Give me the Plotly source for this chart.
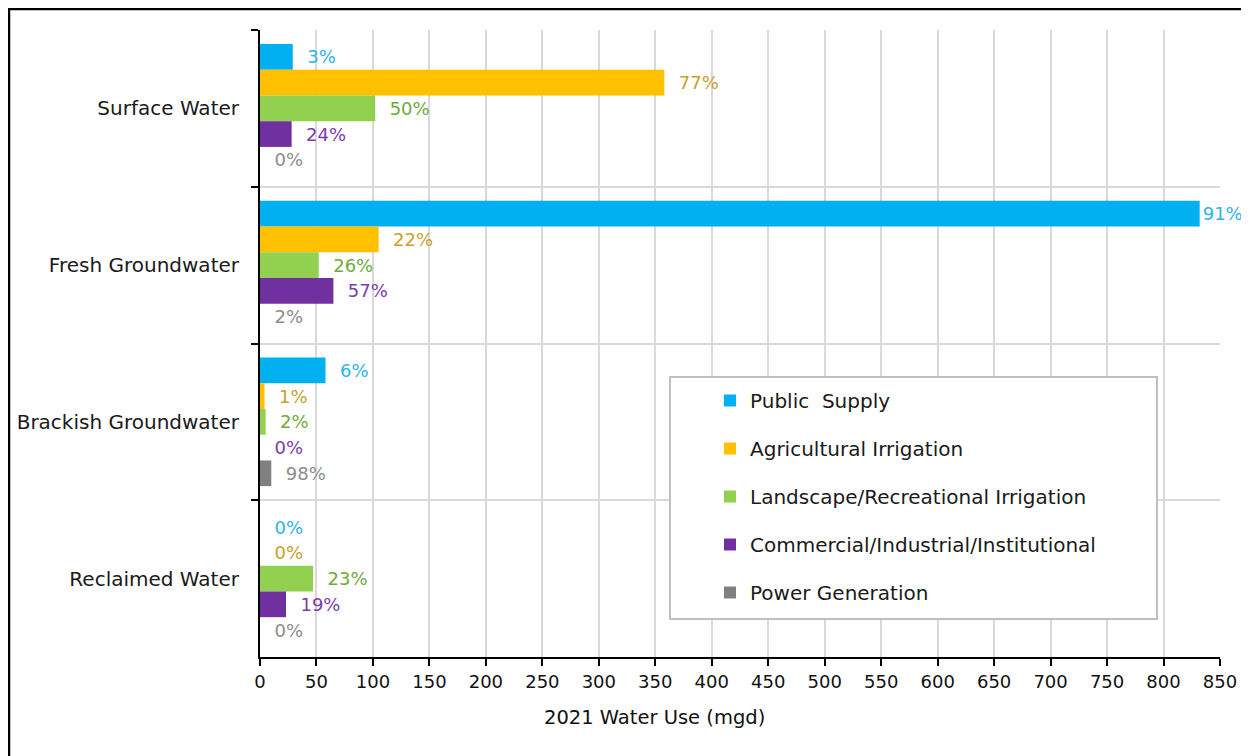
import plotly.graph_objects as go

categories = ["Surface Water", "Fresh Groundwater", "Brackish Groundwater", "Reclaimed Water"]
series_names = ["Public  Supply", "Agricultural Irrigation", "Landscape/Recreational Irrigation",
                "Commercial/Industrial/Institutional", "Power Generation"]

public_supply = [29, 832, 58, 0]
agricultural = [358, 105, 4, 0]
landscape = [102, 52, 5, 47]
commercial = [28, 65, 0, 23]
power = [0, 0, 10, 0]

public_supply_pct = ["3%", "91%", "6%", "0%"]
agricultural_pct = ["77%", "22%", "1%", "0%"]
landscape_pct = ["50%", "26%", "2%", "23%"]
commercial_pct = ["24%", "57%", "0%", "19%"]
power_pct = ["0%", "2%", "98%", "0%"]

x_ticks = list(range(0, 851, 50))

values = [public_supply, agricultural, landscape, commercial, power]
labels = [public_supply_pct, agricultural_pct, landscape_pct, commercial_pct, power_pct]
bar_colors = ["#00B0F0", "#FFC000", "#92D050", "#7030A0", "#808080"]
label_colors = ["#2CB4EC", "#C9A12B", "#6FAA3C", "#7A3CB0", "#8C8C8C"]

# page is offset by 8px (body margin); work in page pixels and convert
OFF = 8
W, H = 1249 - OFF, 756 - OFF
L, R, T, B = 260 - OFF, 1249 - 1220, 30 - OFF, 756 - 657
pw, ph = W - L - R, H - T - B

def px_x(p):
    return (p - OFF - L) / pw

def px_y(p):
    return (H - B - (p - OFF)) / ph

fig = go.Figure()
for i, name in enumerate(series_names):
    txt = []
    for v, t in zip(values[i], labels[i]):
        txt.append(("" if v > 700 else "\u00a0\u00a0") + t)
    fig.add_trace(go.Bar(
        name=name,
        y=categories,
        x=values[i],
        orientation="h",
        marker=dict(color=bar_colors[i], line=dict(width=0)),
        text=txt,
        textposition="outside",
        textfont=dict(color=label_colors[i], size=18, family="DejaVu Sans"),
        constraintext="none",
        cliponaxis=False,
        legendgroup=f"g{i}",
    ))

fig.update_layout(
    width=W, height=H,
    margin=dict(l=L, r=R, t=T, b=B, autoexpand=False),
    paper_bgcolor="white",
    plot_bgcolor="white",
    barmode="group",
    bargap=0.18,
    bargroupgap=0,
    font=dict(family="DejaVu Sans", color="#262626"),
    showlegend=True,
    legend=dict(
        x=px_x(710), y=px_y(381), xanchor="left", yanchor="top",
        bgcolor="rgba(0,0,0,0)", borderwidth=0,
        font=dict(size=20, family="DejaVu Sans", color="#1a1a1a"),
        tracegroupgap=19,
        itemclick=False,
    ),
    xaxis=dict(
        range=[0, 850],
        tickvals=x_ticks,
        ticktext=[str(v) for v in x_ticks],
        showgrid=True, gridcolor="#D9D9D9", gridwidth=2,
        showline=True, linecolor="black", linewidth=2,
        ticks="outside", ticklen=7, tickcolor="black", tickwidth=1.5,
        tickfont=dict(size=18, family="DejaVu Sans", color="#111"),
        zeroline=False,
        automargin=False,
    ),
    yaxis=dict(
        type="category",
        autorange="reversed",
        tickson="boundaries",
        showgrid=True, gridcolor="#D9D9D9", gridwidth=2,
        showline=True, linecolor="black", linewidth=2,
        ticks="outside", ticklen=7, tickcolor="black", tickwidth=2,
        ticklabelstandoff=15,
        tickfont=dict(size=20, family="DejaVu Sans", color="#1a1a1a"),
        automargin=False,
    ),
    shapes=[
        dict(type="rect", xref="paper", yref="paper",
             x0=px_x(670), x1=px_x(1157), y0=px_y(619), y1=px_y(377),
             fillcolor="white", line=dict(color="#BFBFBF", width=2), layer="above"),
        dict(type="rect", xref="paper", yref="paper",
             x0=px_x(9), x1=px_x(1300), y0=px_y(800), y1=px_y(9),
             fillcolor="rgba(0,0,0,0)", line=dict(color="black", width=2.5), layer="above"),
    ],
    annotations=[
        dict(text="2021 Water Use (mgd)", xref="paper", yref="paper",
             x=px_x(654), y=px_y(717), xanchor="center", yanchor="middle",
             showarrow=False,
             font=dict(size=19.5, family="DejaVu Sans", color="#111")),
    ],
)

fig.write_html("out.html")
